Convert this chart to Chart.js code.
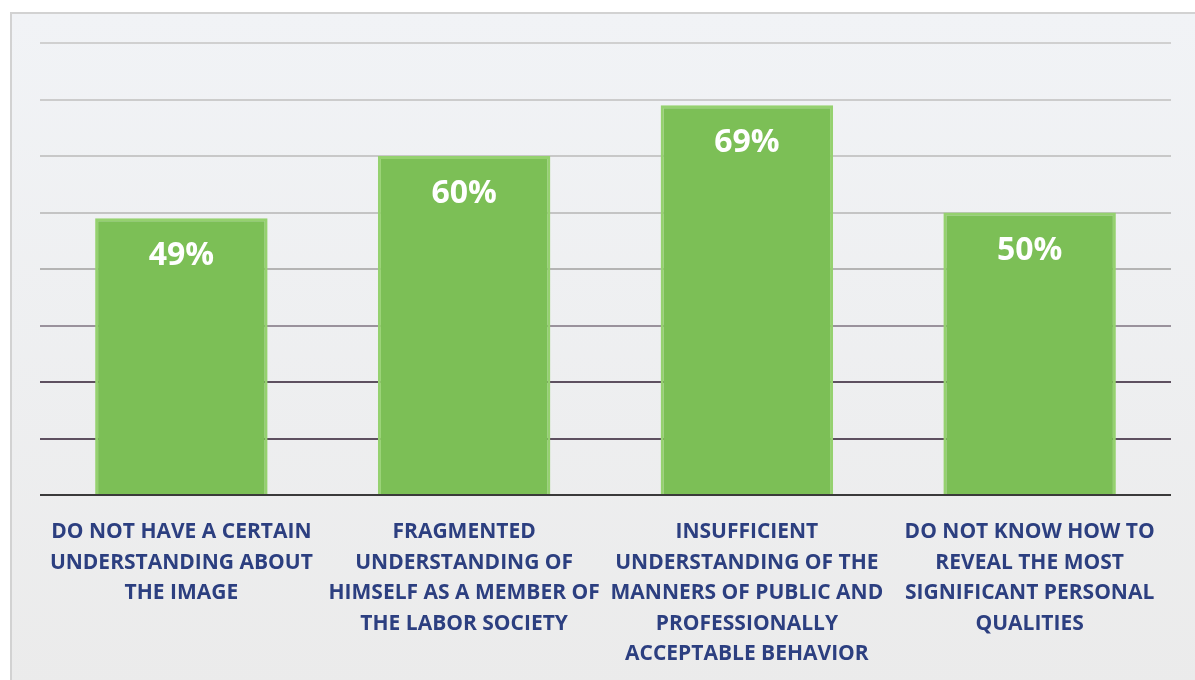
<!DOCTYPE html>
<html>
<head>
<meta charset="utf-8">
<script src="https://cdn.jsdelivr.net/npm/chart.js@4/dist/chart.umd.min.js"></script>
<style>
  html, body { margin: 0; padding: 0; background: #ffffff; }
  #wrap { position: relative; width: 1195px; height: 680px; overflow: hidden; }
  #frame { position: absolute; left: 10px; top: 12px; width: 1195px; height: 680px;
           border: 2px solid #d2d2d2; box-sizing: border-box;
           background: linear-gradient(#f1f3f6, #ebebeb); }
  #c { position: absolute; left: 0; top: 0; }
</style>
</head>
<body>
<div id="wrap">
  <div id="frame"></div>
  <canvas id="c" width="1195" height="680"></canvas>
</div>
<script>
const categories = [
  ["DO NOT HAVE A CERTAIN", "UNDERSTANDING ABOUT", "THE IMAGE"],
  ["FRAGMENTED", "UNDERSTANDING OF", "HIMSELF AS A MEMBER OF", "THE LABOR SOCIETY"],
  ["INSUFFICIENT", "UNDERSTANDING OF THE", "MANNERS OF PUBLIC AND", "PROFESSIONALLY", "ACCEPTABLE BEHAVIOR"],
  ["DO NOT KNOW HOW TO", "REVEAL THE MOST", "SIGNIFICANT PERSONAL", "QUALITIES"]
];
const values = [49, 60, 69, 50];
const valueLabels = ["49%", "60%", "69%", "50%"];
const yMin = 0, yMax = 80, yStep = 10;

const gridColors = {0: "#3a3a3a", 10: "#5e5060", 20: "#5e5060", 30: "#9a929c", 40: "#b4b4b4",
                    50: "#c4c4c4", 60: "#c8c8c8", 70: "#cccccc", 80: "#d0d0d0"};

const valueLabelPlugin = {
  id: "valueLabels",
  afterDatasetsDraw(chart) {
    const ctx = chart.ctx;
    const meta = chart.getDatasetMeta(0);
    ctx.save();
    ctx.font = "bold 32px 'Open Sans', Lato, sans-serif";
    ctx.fillStyle = "#ffffff";
    ctx.textAlign = "center";
    ctx.textBaseline = "middle";
    meta.data.forEach((bar, i) => {
      ctx.fillText(valueLabels[i], bar.x, bar.y + 38);
    });
    ctx.restore();
  }
};

new Chart(document.getElementById("c"), {
  type: "bar",
  data: {
    labels: categories,
    datasets: [{
      data: values,
      backgroundColor: "#7cbf56",
      borderColor: "#95d16f",
      borderWidth: 3,
      borderSkipped: "bottom",
      barPercentage: 0.61,
      categoryPercentage: 1.0
    }]
  },
  options: {
    responsive: false,
    animation: false,
    events: [],
    layout: { padding: { left: 40, right: 24, top: 43, bottom: 0 } },
    plugins: { legend: { display: false }, tooltip: { enabled: false } },
    scales: {
      x: {
        grid: { display: false, drawTicks: false },
        border: { display: false },
        ticks: {
          color: "#2c3f80",
          font: { family: "'Open Sans', Lato, sans-serif", size: 21, weight: "bold", lineHeight: 1.45 },
          padding: 22,
          maxRotation: 0, minRotation: 0, autoSkip: false
        },
        afterFit(scale) { scale.height = 185; }
      },
      y: {
        min: yMin, max: yMax,
        ticks: { display: false, stepSize: yStep },
        border: { display: false },
        grid: {
          drawTicks: false,
          lineWidth: 2,
          color: (ctx) => gridColors[ctx.tick ? ctx.tick.value : 0] || "#c8c8c8"
        }
      }
    }
  },
  plugins: [valueLabelPlugin]
});
</script>
</body>
</html>
